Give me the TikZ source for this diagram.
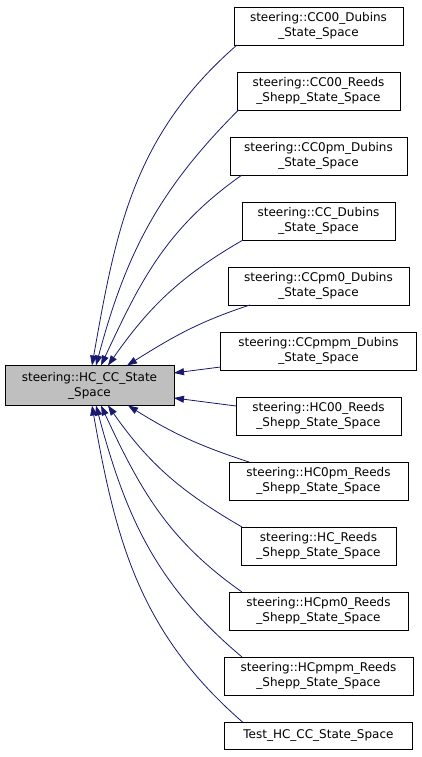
\documentclass[tikz,border=0pt]{standalone}
\usepackage{fontspec}
\setmainfont{DejaVu Sans}
\usetikzlibrary{arrows.meta,positioning}
\definecolor{edgeblue}{HTML}{191970}
\definecolor{basegray}{HTML}{BFBFBF}

\begin{document}
\begin{tikzpicture}[
    x=1pt, y=1pt,
    classbox/.style={draw=black, line width=0.8pt, fill=white, align=center, minimum height=38pt, inner sep=2pt, outer sep=0pt, font=\fontsize{12}{15}\selectfont},
    inherit/.style={-{Triangle[length=10pt, width=7pt]}, edgeblue, line width=0.8pt},
    node distance=27pt
]
    \useasboundingbox (0,0) rectangle (421,757);

    % Base class
    \node[classbox, fill=basegray, minimum width=169pt, minimum height=40pt] (hccc) at (89.5,371.5) {steering::HC\_CC\_State\\\_Space};

    % Derived classes
    \node[classbox, minimum width=169pt] (cc00dub) at (318.5,731) {steering::CC00\_Dubins\\\_State\_Space};
    \node[classbox, minimum width=163pt, below=of cc00dub] (cc00rs) {steering::CC00\_Reeds\\\_Shepp\_State\_Space};
    \node[classbox, minimum width=177pt, below=of cc00rs] (cc0pmdub) {steering::CC0pm\_Dubins\\\_State\_Space};
    \node[classbox, minimum width=153pt, below=of cc0pmdub] (ccdub) {steering::CC\_Dubins\\\_State\_Space};
    \node[classbox, minimum width=181pt, below=of ccdub] (ccpm0dub) {steering::CCpm0\_Dubins\\\_State\_Space};
    \node[classbox, minimum width=196pt, below=of ccpm0dub] (ccpmpmdub) {steering::CCpmpm\_Dubins\\\_State\_Space};
    \node[classbox, minimum width=165pt, below=of ccpmpmdub] (hc00rs) {steering::HC00\_Reeds\\\_Shepp\_State\_Space};
    \node[classbox, minimum width=179pt, below=of hc00rs] (hc0pmrs) {steering::HC0pm\_Reeds\\\_Shepp\_State\_Space};
    \node[classbox, minimum width=155pt, below=of hc0pmrs] (hcrs) {steering::HC\_Reeds\\\_Shepp\_State\_Space};
    \node[classbox, minimum width=179pt, below=of hcrs] (hcpm0rs) {steering::HCpm0\_Reeds\\\_Shepp\_State\_Space};
    \node[classbox, minimum width=189pt, below=of hcpm0rs] (hcpmpmrs) {steering::HCpmpm\_Reeds\\\_Shepp\_State\_Space};
    \node[classbox, minimum width=188pt, minimum height=27pt, below=of hcpmpmrs] (test) {Test\_HC\_CC\_State\_Space};

    % Inheritance arrows, upper half
    \draw[inherit] ([xshift=3pt]cc00dub.south west) to[out=221, in=80] ([xshift=2.5pt]hccc.north);
    \draw[inherit] ([xshift=1.5pt]cc00rs.south west) to[out=225, in=75] ([xshift=6.5pt]hccc.north);
    \draw[inherit] ([xshift=12pt]cc0pmdub.south west) to[out=215, in=65] ([xshift=11.5pt]hccc.north);
    \draw[inherit] ([xshift=1pt]ccdub.south west) to[out=210, in=55] ([xshift=18.5pt]hccc.north);
    \draw[inherit] ([xshift=22pt]ccpm0dub.south west) to[out=198, in=32] ([xshift=37.5pt]hccc.north);
    \draw[inherit] ([yshift=-16pt]ccpmpmdub.west) -- ([yshift=12.5pt]hccc.east);

    % Inheritance arrows, lower half
    \draw[inherit] ([yshift=10pt]hc00rs.west) -- ([yshift=-12.5pt]hccc.east);
    \draw[inherit] ([xshift=20pt]hc0pmrs.north west) to[out=162, in=-32] ([xshift=38.5pt]hccc.south);
    \draw[inherit] ([xshift=1pt]hcrs.north west) to[out=150, in=-55] ([xshift=18.5pt]hccc.south);
    \draw[inherit] ([xshift=13pt]hcpm0rs.north west) to[out=145, in=-65] ([xshift=11.5pt]hccc.south);
    \draw[inherit] ([xshift=18pt]hcpmpmrs.north west) to[out=140, in=-75] ([xshift=6.5pt]hccc.south);
    \draw[inherit] ([xshift=18pt]test.north west) to[out=139, in=-80] ([xshift=2.5pt]hccc.south);
\end{tikzpicture}
\end{document}
